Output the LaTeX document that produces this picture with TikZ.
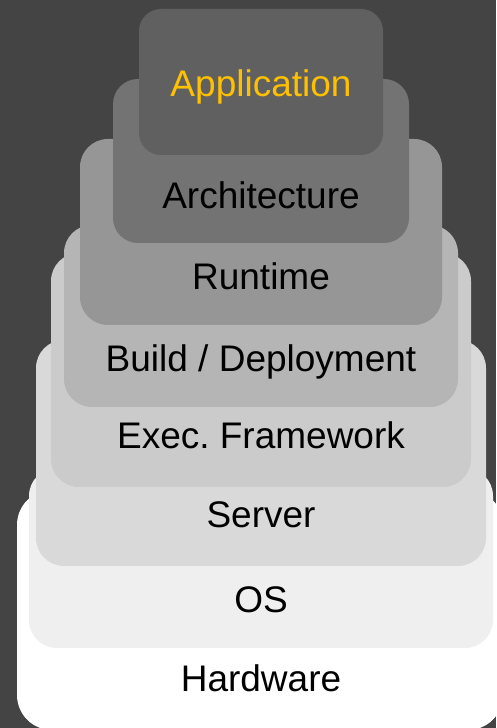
\documentclass[tikz,border=0pt]{standalone}
\usepackage{fontspec}
\setmainfont{Liberation Sans}
\usepackage{xcolor}

\definecolor{bgdark}{HTML}{444444}
\definecolor{appfill}{HTML}{606060}
\definecolor{archfill}{HTML}{737373}
\definecolor{runfill}{HTML}{969696}
\definecolor{buildfill}{HTML}{B5B5B5}
\definecolor{execfill}{HTML}{CBCBCB}
\definecolor{serverfill}{HTML}{D9D9D9}
\definecolor{osfill}{HTML}{EFEFEF}
\definecolor{hwfill}{HTML}{FFFFFF}
\definecolor{apptext}{HTML}{FFC000}

\tikzset{
    layer/.style={rounded corners=28pt},
    lbl/.style={anchor=base, inner sep=0pt, text=black, font=\fontsize{37}{44}\selectfont}
}

\begin{document}
\begin{tikzpicture}[x=1pt, y=1pt]
    \path[use as bounding box, clip] (0,0) rectangle (496,728);
    \fill[bgdark] (0,0) rectangle (496,728);

    % stacked layers, bottom first
    \fill[layer, hwfill, rounded corners=35pt] (17,-2) rectangle (503,238);
    \fill[layer, osfill] (29,80) rectangle (493,260);
    \fill[layer, serverfill] (36,162) rectangle (486,388);
    \fill[layer, execfill] (51,241) rectangle (471,475);
    \fill[layer, buildfill] (64,321) rectangle (458,503);
    \fill[layer, runfill] (80,403) rectangle (442,589);
    \fill[layer, archfill, rounded corners=25pt] (113,485) rectangle (409,649);
    \fill[layer, appfill, rounded corners=22pt] (139,573) rectangle (383,719);

    \node[lbl] (hw) at (261,36) {Hardware};
    \node[lbl] (os) at (261,115) {OS};
    \node[lbl] (server) at (261,200) {Server};
    \node[lbl] (exec) at (261,279) {Exec.\ Framework};
    \node[lbl] (build) at (261,356) {Build / Deployment};
    \node[lbl] (run) at (261,438) {Runtime};
    \node[lbl] (arch) at (261,519) {Architecture};
    \node[lbl, text=apptext] (app) at (261,631) {Application};
\end{tikzpicture}
\end{document}
